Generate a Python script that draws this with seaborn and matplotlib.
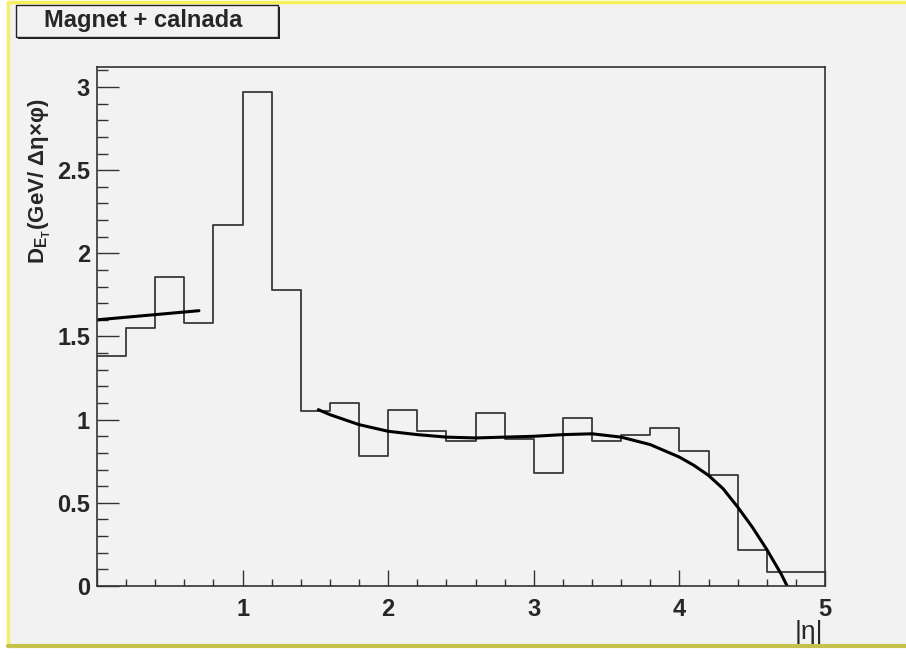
import numpy as np
import pandas as pd
import seaborn as sns
import matplotlib.pyplot as plt
from matplotlib.patches import Rectangle
from matplotlib.ticker import MultipleLocator

# histogram contents, 25 bins of width 0.2 in |eta|
bin_edges = np.linspace(0, 5, 26)
bin_values = [1.38, 1.55, 1.86, 1.58, 2.17, 2.97, 1.78, 1.05, 1.10, 0.78,
              1.06, 0.93, 0.87, 1.04, 0.885, 0.68, 1.01, 0.87, 0.91, 0.95,
              0.81, 0.67, 0.215, 0.085, 0.085]

# fit curves
fit1_x = [0.0, 0.70]
fit1_y = [1.60, 1.655]
fit2_x = [1.52, 1.6, 1.7, 1.8, 1.9, 2.0, 2.2, 2.4, 2.6, 2.8, 3.0, 3.2, 3.4,
          3.6, 3.8, 4.0, 4.1, 4.2, 4.3, 4.4, 4.5, 4.6, 4.7, 4.74]
fit2_y = [1.06, 1.03, 1.0, 0.97, 0.95, 0.93, 0.91, 0.895, 0.89, 0.895, 0.90,
          0.91, 0.915, 0.895, 0.85, 0.775, 0.725, 0.665, 0.585, 0.475, 0.355,
          0.22, 0.07, 0.0]

x_ticks = [0, 1, 2, 3, 4, 5]
x_tick_labels = ["", "1", "2", "3", "4", "5"]
y_ticks = [0, 0.5, 1, 1.5, 2, 2.5, 3]
y_tick_labels = ["0", "0.5", "1", "1.5", "2", "2.5", "3"]

sns.set_style("ticks")
plt.rcParams['font.family'] = ['Liberation Sans', 'DejaVu Sans']
plt.rcParams['mathtext.fontset'] = 'custom'
plt.rcParams['mathtext.rm'] = 'Liberation Sans'
plt.rcParams['mathtext.bf'] = 'Liberation Sans:bold'

bg = "#f2f2f2"
fig = plt.figure(figsize=(9.06, 6.54), dpi=100, facecolor="white")

# pad frame with yellow border
W, H = 906, 654
fig.patches.append(Rectangle((8 / W, 1 - 646 / H), 1 - 8 / W, (646 - 2) / H,
                             transform=fig.transFigure, facecolor=bg,
                             edgecolor="none", zorder=-5))
fig.add_artist(plt.Line2D([8 / W, 1], [1 - 2 / H, 1 - 2 / H], color="#f4ef5a", lw=2.5))
fig.add_artist(plt.Line2D([8 / W, 8 / W], [1 - 646 / H, 1 - 2 / H], color="#f4ef6a", lw=2.5))
fig.add_artist(plt.Line2D([8 / W, 1], [1 - 646 / H, 1 - 646 / H], color="#c4c24a", lw=3))

ax = fig.add_axes([97 / W, 1 - 586 / H, (825 - 97) / W, (586 - 67) / H])
ax.set_facecolor(bg)

df = pd.DataFrame({"eta": (bin_edges[:-1] + bin_edges[1:]) / 2, "val": bin_values})
sns.histplot(data=df, x="eta", weights="val", binwidth=0.2, binrange=(0, 5),
             element="step", fill=False, color="#3a3a3a", linewidth=1.3, ax=ax)

sns.lineplot(x=fit1_x, y=fit1_y, color="black", linewidth=2.2, ax=ax,
             estimator=None, sort=False)
sns.lineplot(x=fit2_x, y=fit2_y, color="black", linewidth=2.2, ax=ax,
             estimator=None, sort=False)

ax.set_xlim(0, 5)
ax.set_ylim(0, 3.12)
ax.set_xticks(x_ticks)
ax.set_xticklabels(x_tick_labels)
ax.set_yticks(y_ticks)
ax.set_yticklabels(y_tick_labels)
ax.xaxis.set_minor_locator(MultipleLocator(0.2))
ax.yaxis.set_minor_locator(MultipleLocator(0.1))
ax.tick_params(axis="x", which="major", direction="in", length=11.5, width=1,
               pad=9, labelsize=17, color="#333333")
ax.tick_params(axis="x", which="minor", direction="in", length=5, width=1,
               color="#333333")
ax.tick_params(axis="y", which="major", direction="in", length=16, width=1,
               pad=5, labelsize=17, color="#333333")
ax.tick_params(axis="y", which="minor", direction="in", length=8, width=1,
               color="#333333")
for lab in ax.get_xticklabels() + ax.get_yticklabels():
    lab.set_fontweight("bold")
for sp in ax.spines.values():
    sp.set_visible(True)
    sp.set_color("#333333")
    sp.set_linewidth(1.2)

ax.set_xlabel("")
ax.set_ylabel("")
fig.text(809 / W, 1 - 632 / H, "|η|", fontsize=19, ha="center", va="center")
fig.text(40 / W, 1 - 98 / H,
         r"$\mathbf{D_{E_{T}}}$(GeV/ Δη×φ)", fontsize=16, fontweight="bold",
         rotation=90, ha="center", va="top")

# title box with shadow
fig.patches.append(Rectangle((18 / W, 1 - 39 / H), 262 / W, 32 / H,
                             transform=fig.transFigure, facecolor="#222222",
                             edgecolor="none", zorder=2))
fig.patches.append(Rectangle((16 / W, 1 - 37 / H), 262 / W, 32 / H,
                             transform=fig.transFigure, facecolor=bg,
                             edgecolor="#222222", lw=1, zorder=3))
fig.text(143 / W, 1 - 21 / H, "Magnet + calnada", fontsize=17, fontweight="bold",
         ha="center", va="center", zorder=4)

fig.savefig("out.png", dpi=100, facecolor=fig.get_facecolor())
